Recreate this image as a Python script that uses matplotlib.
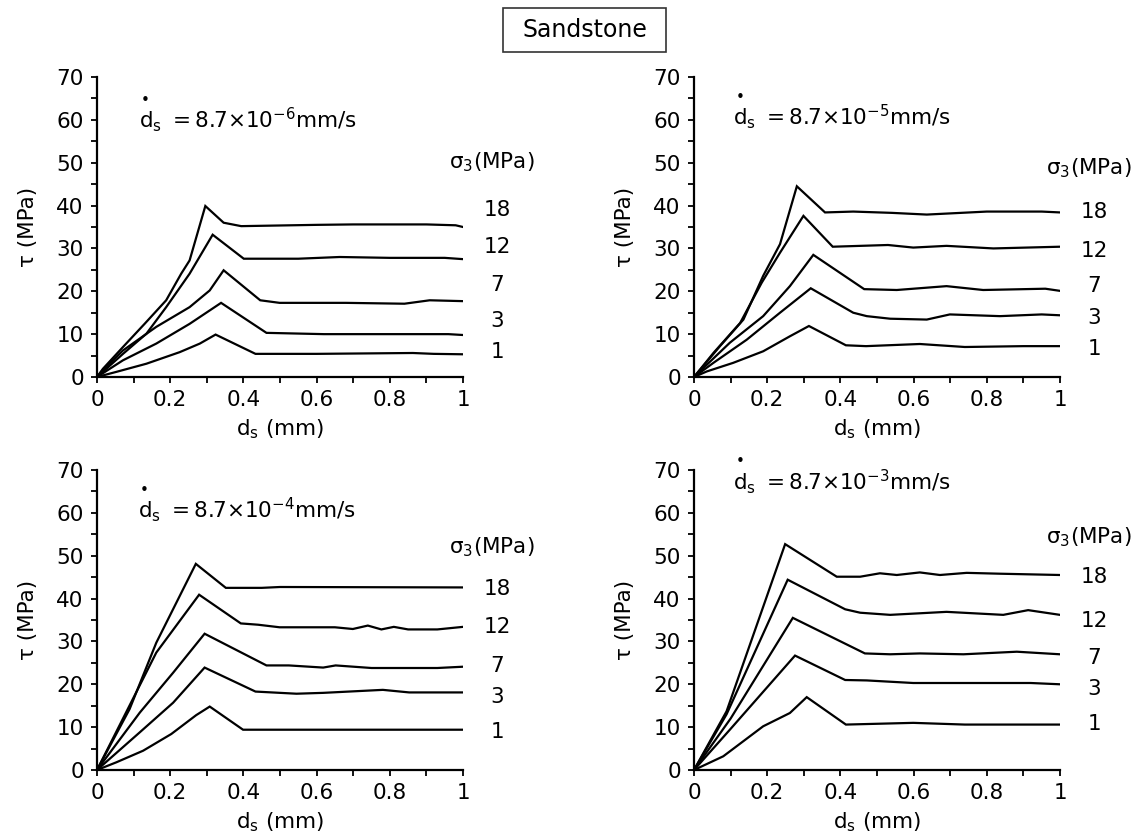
import matplotlib
matplotlib.use("Agg")
import matplotlib.pyplot as plt
from matplotlib.patches import Rectangle
from matplotlib.ticker import MultipleLocator, FixedLocator

plt.rcParams["font.family"] = ["DejaVu Sans"]
plt.rcParams["mathtext.fontset"] = "dejavusans"

# confining pressures (MPa)
sigma3 = [18, 12, 7, 3, 1]

# shear rate 8.7e-6 mm/s
x6_18 = [0, 0.016, 0.071, 0.130, 0.189, 0.230, 0.253, 0.296, 0.346, 0.394, 0.60, 0.70, 0.90, 0.98, 1.0]
t6_18 = [0, 1.9, 7.0, 12.4, 17.9, 24.1, 27.2, 39.9, 36.0, 35.2, 35.5, 35.6, 35.6, 35.4, 35.0]
x6_12 = [0, 0.016, 0.071, 0.135, 0.189, 0.253, 0.316, 0.401, 0.55, 0.663, 0.80, 0.95, 1.0]
t6_12 = [0, 1.2, 5.4, 10.1, 16.3, 24.1, 33.2, 27.6, 27.6, 28.0, 27.8, 27.8, 27.5]
x6_7 = [0, 0.016, 0.071, 0.162, 0.253, 0.308, 0.346, 0.446, 0.499, 0.68, 0.84, 0.909, 1.0]
t6_7 = [0, 1.6, 6.2, 11.7, 16.3, 20.2, 24.9, 17.9, 17.3, 17.3, 17.1, 17.9, 17.7]
x6_3 = [0, 0.071, 0.162, 0.253, 0.339, 0.463, 0.62, 0.96, 1.0]
t6_3 = [0, 3.9, 7.8, 12.4, 17.3, 10.3, 10.0, 10.0, 9.8]
x6_1 = [0, 0.053, 0.135, 0.226, 0.281, 0.324, 0.433, 0.60, 0.863, 0.92, 1.0]
t6_1 = [0, 1.2, 3.1, 5.8, 7.8, 9.9, 5.4, 5.4, 5.6, 5.4, 5.3]

# shear rate 8.7e-5 mm/s
x5_18 = [0, 0.071, 0.135, 0.189, 0.235, 0.281, 0.358, 0.435, 0.54, 0.636, 0.80, 0.95, 1.0]
t5_18 = [0, 7.2, 13.4, 23.6, 31.0, 44.5, 38.4, 38.6, 38.3, 37.9, 38.6, 38.6, 38.4]
x5_12 = [0, 0.053, 0.126, 0.185, 0.235, 0.299, 0.379, 0.53, 0.599, 0.69, 0.818, 1.0]
t5_12 = [0, 5.6, 12.6, 22.0, 29.0, 37.6, 30.4, 30.8, 30.2, 30.6, 30.0, 30.4]
x5_7 = [0, 0.098, 0.189, 0.262, 0.326, 0.465, 0.554, 0.690, 0.79, 0.96, 1.0]
t5_7 = [0, 8.0, 14.2, 21.2, 28.5, 20.5, 20.3, 21.2, 20.3, 20.6, 20.1]
x5_3 = [0, 0.053, 0.144, 0.235, 0.319, 0.435, 0.472, 0.536, 0.636, 0.699, 0.836, 0.95, 1.0]
t5_3 = [0, 3.3, 8.7, 15.0, 20.7, 15.0, 14.2, 13.6, 13.4, 14.6, 14.2, 14.6, 14.4]
x5_1 = [0, 0.035, 0.107, 0.189, 0.262, 0.314, 0.415, 0.47, 0.617, 0.74, 0.90, 1.0]
t5_1 = [0, 1.3, 3.3, 6.0, 9.5, 11.9, 7.4, 7.2, 7.7, 7.0, 7.2, 7.2]

# shear rate 8.7e-4 mm/s
x4_18 = [0, 0.089, 0.162, 0.270, 0.352, 0.45, 0.50, 1.0]
t4_18 = [0, 14.2, 29.7, 48.1, 42.5, 42.5, 42.7, 42.6]
x4_12 = [0, 0.162, 0.279, 0.393, 0.44, 0.499, 0.65, 0.699, 0.740, 0.777, 0.811, 0.85, 0.93, 1.0]
t4_12 = [0, 27.4, 40.9, 34.2, 33.9, 33.3, 33.3, 32.9, 33.7, 32.8, 33.4, 32.8, 32.8, 33.4]
x4_7 = [0, 0.117, 0.208, 0.294, 0.463, 0.524, 0.618, 0.652, 0.75, 0.93, 1.0]
t4_7 = [0, 13.4, 22.7, 31.8, 24.4, 24.4, 23.9, 24.4, 23.8, 23.8, 24.1]
x4_3 = [0, 0.117, 0.208, 0.294, 0.433, 0.545, 0.618, 0.781, 0.853, 1.0]
t4_3 = [0, 8.8, 15.7, 23.9, 18.3, 17.8, 18.0, 18.7, 18.1, 18.1]
x4_1 = [0, 0.053, 0.126, 0.203, 0.271, 0.308, 0.399, 1.0]
t4_1 = [0, 1.8, 4.5, 8.4, 12.8, 14.8, 9.4, 9.4]

# shear rate 8.7e-3 mm/s
x3_18 = [0, 0.089, 0.249, 0.390, 0.454, 0.508, 0.554, 0.617, 0.672, 0.745, 0.836, 1.0]
t3_18 = [0, 13.7, 52.7, 45.1, 45.1, 45.9, 45.5, 46.1, 45.5, 46.0, 45.8, 45.5]
x3_12 = [0, 0.089, 0.256, 0.413, 0.454, 0.536, 0.690, 0.845, 0.913, 1.0]
t3_12 = [0, 13.0, 44.4, 37.5, 36.7, 36.2, 36.9, 36.2, 37.3, 36.2]
x3_7 = [0, 0.10, 0.270, 0.467, 0.536, 0.617, 0.736, 0.882, 1.0]
t3_7 = [0, 12.0, 35.5, 27.2, 27.0, 27.2, 27.0, 27.6, 27.0]
x3_3 = [0, 0.10, 0.276, 0.413, 0.472, 0.599, 0.92, 1.0]
t3_3 = [0, 9.6, 26.7, 21.0, 20.9, 20.3, 20.3, 20.0]
x3_1 = [0, 0.080, 0.189, 0.262, 0.308, 0.415, 0.599, 0.74, 1.0]
t3_1 = [0, 3.2, 10.2, 13.3, 17.0, 10.6, 11.0, 10.6, 10.6]

rate_exponents = [-6, -5, -4, -3]

panels = [
    dict(curves=[(x6_18, t6_18), (x6_12, t6_12), (x6_7, t6_7), (x6_3, t6_3), (x6_1, t6_1)],
         rect=(97, 77, 366, 300), rate=(0.115, 0.857), lab_y=[0.557, 0.433, 0.307, 0.187, 0.083], sig_y=0.717),
    dict(curves=[(x5_18, t5_18), (x5_12, t5_12), (x5_7, t5_7), (x5_3, t5_3), (x5_1, t5_1)],
         rect=(694, 77, 366, 300), rate=(0.107, 0.867), lab_y=[0.550, 0.420, 0.303, 0.197, 0.093], sig_y=0.697),
    dict(curves=[(x4_18, t4_18), (x4_12, t4_12), (x4_7, t4_7), (x4_3, t4_3), (x4_1, t4_1)],
         rect=(97, 470, 366, 300), rate=(0.112, 0.867), lab_y=[0.603, 0.477, 0.347, 0.243, 0.127], sig_y=0.743),
    dict(curves=[(x3_18, t3_18), (x3_12, t3_12), (x3_7, t3_7), (x3_3, t3_3), (x3_1, t3_1)],
         rect=(694, 470, 366, 300), rate=(0.107, 0.963), lab_y=[0.643, 0.497, 0.373, 0.270, 0.153], sig_y=0.777),
]

W, H = 1143, 838
fig = plt.figure(figsize=(W / 100, H / 100), dpi=100)

FS = 15.5
for p, ex in zip(panels, rate_exponents):
    l, t, w, h = p["rect"]
    ax = fig.add_axes([l / W, 1 - (t + h) / H, w / W, h / H])
    for (xs, ts) in p["curves"]:
        ax.plot(xs, ts, color="black", lw=1.6, solid_joinstyle="miter")
    ax.set_xlim(0, 1)
    ax.set_ylim(0, 70)
    for s in ("top", "right"):
        ax.spines[s].set_visible(False)
    for s in ("left", "bottom"):
        ax.spines[s].set_linewidth(1.6)
    ax.xaxis.set_major_locator(FixedLocator([0, 0.2, 0.4, 0.6, 0.8, 1.0]))
    ax.set_xticklabels(["0", "0.2", "0.4", "0.6", "0.8", "1"])
    ax.xaxis.set_minor_locator(MultipleLocator(0.1))
    ax.yaxis.set_major_locator(MultipleLocator(10))
    ax.yaxis.set_minor_locator(MultipleLocator(5))
    ax.tick_params(which="both", direction="out", length=4.5, width=1.3, labelsize=FS, pad=5)
    ax.set_ylabel("τ (MPa)", fontsize=FS)
    ax.yaxis.set_label_coords(-0.16, 0.5)
    ax.set_xlabel(r"d$_\mathrm{s}$ (mm)", fontsize=FS)
    ax.xaxis.set_label_coords(0.5, -0.135)

    rx, ry = p["rate"]
    ax.text(rx, ry, r"d$_\mathrm{s}$ $=$8.7×10$^{%d}$mm/s" % ex,
            transform=ax.transAxes, fontsize=FS, ha="left", va="center", clip_on=False)
    # time-derivative dot over d
    ax.text(rx + 0.018, ry + 0.066, "•", transform=ax.transAxes, fontsize=11,
            ha="center", va="center", clip_on=False)
    ax.text(1.08, p["sig_y"], r"σ$_3$(MPa)", transform=ax.transAxes, fontsize=FS,
            ha="center", va="center", clip_on=False)
    for s3, yy in zip(sigma3, p["lab_y"]):
        ax.text(1.093, yy, str(s3), transform=ax.transAxes, fontsize=FS,
                ha="center", va="center", clip_on=False)

# boxed title
fig.patches.append(Rectangle((503 / W, 1 - 52 / H), 163 / W, 44 / H, transform=fig.transFigure,
                             fill=False, ec="#333333", lw=1.2))
fig.text(585 / W, 1 - 30 / H, "Sandstone", fontsize=17, ha="center", va="center")

fig.savefig("out.png", dpi=100)
